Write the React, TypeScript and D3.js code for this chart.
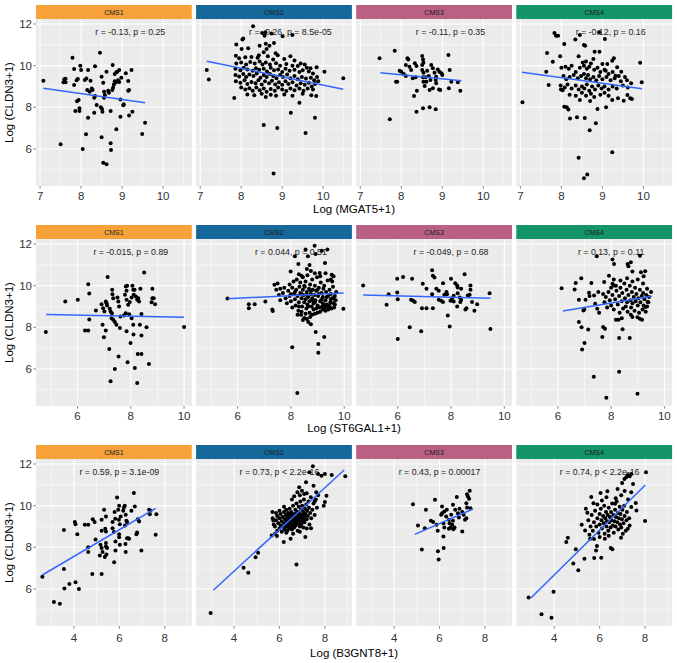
import * as d3 from "d3";
import * as React from "react";

const groups = ["CMS1", "CMS2", "CMS3", "CMS4"];
const stripColors = ["#F7A13A", "#16689A", "#B96083", "#139469"];
const genes = ["MGAT5", "ST6GAL1", "B3GNT8"];
const xDomains: [number, number][] = [[6.9, 10.7], [4.44, 10.29], [2.33, 9.19]];
const xTicks = [[7, 8, 9, 10], [6, 8, 10], [4, 6, 8]];
const xMinor = [[7.5, 8.5, 9.5, 10.5], [5, 7, 9], [3, 5, 7, 9]];
const yDomain: [number, number] = [4.22, 12.24];
const yTicks = [6, 8, 10, 12];
const yMinor = [5, 7, 9, 11];

const corText = [
  ["r = -0.13, p = 0.25", "r = -0.26, p = 8.5e-05", "r = -0.11, p = 0.35", "r = -0.12, p = 0.16"],
  ["r = -0.015, p = 0.89", "r = 0.044, p = 0.51", "r = -0.049, p = 0.68", "r = 0.13, p = 0.11"],
  ["r = 0.59, p = 3.1e-09", "r = 0.73, p < 2.2e-16", "r = 0.43, p = 0.00017", "r = 0.74, p < 2.2e-16"],
];
const corLabelX = [9.2, 8, 6];
const corLabelY = 11.6;

// lm fit segments [x0, y0, x1, y1]
const fitMgat5 = [[7.08, 8.91, 9.56, 8.22], [7.16, 10.21, 10.49, 8.87], [7.49, 9.66, 9.47, 9.28], [7.04, 9.68, 9.97, 8.89]];
const fitSt6gal1 = [[4.82, 8.62, 10.0, 8.48], [5.63, 9.37, 9.98, 9.65], [4.7, 9.55, 9.48, 9.39], [6.19, 8.78, 9.53, 9.49]];
const fitB3gnt8 = [[2.61, 6.67, 7.6, 9.87], [3.09, 5.94, 8.85, 11.71], [4.91, 8.62, 7.47, 9.84], [2.96, 5.55, 8.01, 10.99]];

const mgat5Cms1 = [[7.08,9.28],[7.5,6.22],[7.57,9.2],[7.59,9.35],[7.62,9.2],[7.62,9.37],[7.79,10.38],[7.83,9.84],[7.83,9.07],[7.86,7.82],[7.9,8.29],[7.94,8.35],[7.92,9.36],[7.89,9.3],[7.98,10.0],[8.0,9.79],[7.96,7.95],[7.96,7.82],[8.04,6.0],[8.09,9.31],[8.13,9.38],[8.17,9.79],[8.12,6.7],[8.17,7.5],[8.15,8.83],[8.21,8.75],[8.23,9.28],[8.26,8.9],[8.28,8.83],[8.32,8.46],[8.34,8.54],[8.34,9.97],[8.32,7.74],[8.38,8.11],[8.46,10.62],[8.5,6.56],[8.5,9.47],[8.48,8.0],[8.51,7.92],[8.52,7.78],[8.54,9.18],[8.56,8.75],[8.58,8.59],[8.54,5.34],[8.62,5.26],[8.62,9.71],[8.56,8.46],[8.66,8.8],[8.68,8.7],[8.72,7.82],[8.72,6.27],[8.73,5.95],[8.76,8.83],[8.78,8.94],[8.8,9.1],[8.82,9.25],[8.85,9.2],[8.77,10.03],[8.82,9.6],[8.86,9.68],[8.88,9.71],[8.86,6.94],[8.9,9.3],[8.93,9.22],[8.93,9.79],[8.96,8.38],[8.96,7.55],[8.98,9.42],[9.03,8.1],[9.04,8.14],[9.09,9.63],[9.15,8.8],[9.17,8.83],[9.15,9.26],[9.17,7.6],[9.23,9.79],[9.25,7.78],[9.49,6.72],[9.56,7.26]];
const mgat5Cms2 = [[7.16,9.79],[7.21,9.34],[7.83,8.45],[7.87,10.48],[7.88,11.02],[8.03,11.25],[8.05,11.3],[8.29,11.89],[8.55,7.15],[8.88,7.0],[8.79,4.82],[9.21,7.74],[9.57,6.77],[9.8,7.5],[10.03,9.71],[10.49,9.39],[9.42,8.22],[9.83,8.54],[9.71,8.58],[9.84,9.92],[9.69,9.88],
  [8.51,11.57],[8.57,11.44],[8.59,11.6],[8.74,11.54],[8.8,11.09],[8.69,10.96],[8.62,10.8],[8.84,10.6],[8.89,10.5],[8.43,10.5],[8.55,10.64],[8.17,10.83],[8.01,10.8],[9.01,11.41],[9.25,11.47],[8.6,11.05],[8.45,10.95],
  [7.95,10.35],[8.1,10.4],[8.25,10.42],[8.4,10.38],[8.65,10.45],[8.78,10.3],[9.05,10.32],[9.3,10.25],[9.45,10.1],[9.2,10.45],
  [7.88,10.1],[8.0,10.15],[8.12,10.05],[8.22,10.18],[8.33,10.1],[8.45,10.2],[8.52,10.05],[8.6,10.15],[8.7,10.05],[8.85,10.12],[8.95,10.0],[9.1,10.08],[9.25,10.0],[9.38,9.98],[9.55,10.05],[9.6,9.9],
  [7.86,9.85],[7.98,9.78],[8.06,9.9],[8.15,9.82],[8.28,9.75],[8.36,9.88],[8.44,9.8],[8.55,9.85],[8.63,9.72],[8.72,9.9],[8.8,9.78],[8.9,9.82],[9.0,9.7],[9.08,9.85],[9.18,9.75],[9.3,9.8],[9.42,9.7],[9.5,9.78],[9.65,9.72],[9.75,9.62],
  [7.86,9.55],[7.95,9.48],[8.05,9.6],[8.12,9.45],[8.2,9.58],[8.3,9.5],[8.38,9.62],[8.47,9.42],[8.55,9.55],[8.62,9.45],[8.7,9.6],[8.78,9.5],[8.86,9.4],[8.95,9.55],[9.02,9.45],[9.12,9.58],[9.2,9.4],[9.3,9.5],[9.38,9.35],[9.48,9.45],[9.58,9.38],[9.7,9.42],[9.78,9.3],[9.85,9.45],
  [7.87,9.25],[7.98,9.18],[8.08,9.3],[8.15,9.12],[8.25,9.22],[8.35,9.15],[8.42,9.3],[8.5,9.1],[8.58,9.25],[8.68,9.15],[8.75,9.28],[8.83,9.1],[8.92,9.2],[9.0,9.08],[9.08,9.25],[9.15,9.12],[9.25,9.2],[9.35,9.05],[9.45,9.15],[9.55,9.08],[9.65,9.18],[9.72,9.0],[9.8,9.12],[9.88,9.25],
  [8.0,8.95],[8.1,8.85],[8.2,8.92],[8.28,8.8],[8.37,8.95],[8.45,8.82],[8.55,8.9],[8.62,8.75],[8.72,8.88],[8.82,8.8],[8.9,8.95],[9.0,8.85],[9.1,8.78],[9.2,8.9],[9.3,8.82],[9.42,8.9],[9.52,8.8],[9.62,8.9],[9.75,8.85],
  [8.15,8.62],[8.32,8.58],[8.5,8.65],[8.6,8.5],[8.72,8.6],[8.85,8.55],[9.05,8.62],[9.25,8.55],[9.5,8.65]];
const mgat5Cms3 = [[7.47,10.35],[7.84,10.72],[7.72,7.42],[7.87,9.23],[7.9,9.23],[7.96,9.76],[8.0,9.71],[8.06,9.6],[8.11,9.5],[8.11,10.03],[8.15,10.35],[8.17,10.3],[8.2,9.95],[8.24,9.79],[8.33,10.11],[8.37,9.98],[8.28,9.39],[8.35,9.44],[8.38,8.8],[8.31,8.54],[8.37,7.79],[8.51,10.46],[8.53,10.3],[8.54,10.14],[8.51,10.03],[8.51,9.79],[8.54,9.66],[8.53,9.44],[8.54,9.23],[8.57,9.02],[8.53,7.95],[8.69,8.0],[8.84,7.9],[8.63,9.76],[8.67,9.5],[8.71,9.31],[8.73,10.03],[8.77,9.87],[8.81,9.66],[8.85,9.47],[8.89,9.82],[8.93,9.71],[8.98,9.63],[9.0,9.55],[8.85,9.15],[8.92,8.86],[8.95,8.83],[8.77,8.91],[8.69,8.83],[8.84,9.31],[8.59,9.44],[8.61,9.23],[9.15,10.51],[9.18,9.79],[9.16,8.91],[9.22,9.23],[9.38,9.2],[9.44,8.8]];
const mgat5Cms4 = [[7.05,8.24],[7.83,11.57],[7.87,11.44],[7.92,11.44],[7.65,10.61],[7.79,10.19],[7.97,10.45],[8.07,11.04],[8.34,11.25],[8.45,11.47],[8.55,10.99],[8.58,10.96],[9.06,11.28],[8.92,11.6],[8.81,10.67],[8.93,10.67],[8.42,10.45],[8.78,10.32],[7.63,9.71],[7.69,9.07],[7.99,8.85],[8.03,8.82],[8.07,8.03],[8.13,8.0],[8.17,7.89],[8.21,7.46],[8.38,7.52],[8.57,7.49],[8.84,7.23],[8.69,6.9],[8.88,7.92],[9.09,8.0],[8.42,5.58],[9.24,5.84],[8.55,4.59],[8.63,4.77],[9.92,10.14],[9.96,9.2],[9.68,8.43],[9.72,8.4],[9.52,8.32],[9.38,8.43],[9.24,8.35],[9.61,8.59],[9.46,9.71],[9.32,9.52],[9.24,10.24],[9.28,10.35],[9.36,9.92],[9.12,10.08],[9.0,10.08],[9.08,9.76],
  [8.0,9.9],[8.1,9.95],[8.18,9.85],[8.25,10.0],[8.35,9.7],[8.45,9.9],[8.52,10.15],[8.55,10.0],[8.6,10.2],[8.62,9.85],[8.68,9.95],[8.72,10.1],[8.8,9.8],[8.88,9.9],[8.95,9.7],[9.05,9.8],[9.15,9.6],[9.25,9.7],[9.4,9.5],[9.55,9.45],
  [8.05,9.5],[8.12,9.35],[8.2,9.45],[8.3,9.55],[8.4,9.4],[8.48,9.5],[8.55,9.6],[8.6,9.4],[8.65,9.55],[8.7,9.35],[8.78,9.45],[8.85,9.3],[8.92,9.5],[9.0,9.35],[9.1,9.45],[9.2,9.3],[9.3,9.4],[9.45,9.25],[9.6,9.3],[9.7,9.15],
  [7.98,9.05],[8.08,8.95],[8.15,9.1],[8.25,8.9],[8.35,9.05],[8.42,8.85],[8.5,9.0],[8.56,8.9],[8.62,9.1],[8.68,8.8],[8.75,9.0],[8.82,8.85],[8.9,9.05],[8.98,8.9],[9.05,9.0],[9.15,8.85],[9.25,9.0],[9.35,8.9],[9.5,9.05],[9.62,8.95],
  [8.2,8.6],[8.35,8.55],[8.5,8.7],[8.6,8.55],[8.72,8.65],[8.8,8.5],[8.95,8.6],[9.05,8.7],[9.15,8.55],[8.45,8.35],[8.7,8.3]];

const st6gal1Cms1 = [[4.81,7.77],[5.54,9.24],[6.01,9.32],[6.28,7.84],[6.4,10.07],[6.44,9.62],[6.44,8.38],[6.4,7.84],[6.69,8.81],[6.9,9.11],[6.96,8.92],[7.01,8.76],[6.94,8.12],[6.99,7.52],[7.06,7.84],[7.13,10.41],[7.19,6.96],[7.24,5.41],[7.06,9.24],[7.09,9.16],[7.11,9.05],[7.21,8.89],[7.24,8.76],[7.29,8.68],[7.3,9.8],[7.31,9.59],[7.34,9.4],[7.28,8.44],[7.34,8.36],[7.4,8.25],[7.46,8.12],[7.53,9.24],[7.56,9.0],[7.5,9.43],[7.54,6.6],[7.4,6.0],[7.59,7.96],[7.61,8.52],[7.74,8.57],[7.81,8.68],[7.84,9.32],[7.78,9.56],[7.84,9.75],[7.86,10.0],[7.81,9.96],[7.9,9.08],[7.96,9.21],[8.03,9.43],[8.09,9.8],[8.06,10.0],[8.11,9.56],[7.94,8.63],[8.03,8.44],[7.84,7.81],[7.99,7.25],[7.88,6.32],[8.09,8.12],[8.15,6.05],[8.14,9.8],[8.19,9.48],[8.24,9.32],[8.1,7.65],[8.24,5.33],[8.28,9.4],[8.31,9.24],[8.26,6.72],[8.4,6.72],[8.34,8.12],[8.4,7.6],[8.36,9.85],[8.4,8.64],[8.5,10.63],[8.59,8.0],[8.68,6.24],[8.81,9.85],[8.81,9.4],[8.86,9.4],[8.91,9.11],[8.78,9.2],[10.0,8.01]];
const st6gal1Cms2 = [[5.62,9.38],[6.42,9.11],[6.42,8.92],[6.64,9.11],[7.04,9.24],[7.3,8.86],[7.32,8.78],[8.05,7.04],[8.24,4.84],[8.93,7.77],[9.25,7.53],[9.03,7.2],[9.03,6.78],[9.97,8.89],[7.38,10.04],[7.5,10.1],
  [8.89,11.92],[9.37,11.73],[9.16,11.68],[8.15,11.41],[8.64,11.41],[8.55,11.73],[8.93,11.52],[9.28,11.09],[8.7,10.99],[8.28,11.04],[9.08,10.61],[7.99,10.68],[8.4,10.48],[9.53,10.52],[9.55,10.2],[9.6,9.4],
  [7.45,9.8],[7.55,9.55],[7.6,9.3],[7.7,9.65],[7.75,9.9],[7.8,9.4],[7.85,9.15],[7.9,9.75],[7.95,10.05],[7.95,9.5],[8.0,9.25],[8.05,9.9],[8.05,8.95],[8.1,10.2],[8.12,9.6],[8.15,9.35],[8.18,9.05],[8.2,9.8],[8.22,10.3],[8.25,9.5],[8.28,8.8],[8.3,9.2],[8.32,9.95],[8.35,10.15],[8.35,9.65],[8.38,8.6],[8.4,9.4],[8.42,9.0],[8.45,9.8],[8.45,10.4],[8.48,9.55],[8.5,9.2],[8.5,8.45],[8.52,9.95],[8.55,10.2],[8.55,9.35],[8.58,8.9],[8.6,9.7],[8.62,9.1],[8.62,10.5],[8.65,9.45],[8.68,9.85],[8.7,8.7],[8.7,9.25],[8.72,10.05],[8.75,9.6],[8.78,9.0],[8.8,9.4],[8.8,10.3],[8.82,9.8],[8.85,8.85],[8.85,9.15],[8.88,9.55],[8.9,10.0],[8.92,9.3],[8.95,8.9],[8.95,9.75],[8.98,10.4],[9.0,9.05],[9.02,9.5],[9.05,9.9],[9.08,8.95],[9.1,9.25],[9.12,10.15],[9.15,9.65],[9.18,9.0],[9.2,9.45],[9.22,9.85],[9.25,10.0],[9.28,8.95],[9.3,9.3],[9.32,9.7],[9.35,9.1],[9.38,10.25],[9.4,9.5],[9.42,8.95],[9.45,9.8],[9.48,9.2],[9.5,9.6],[9.52,8.9],[9.55,9.4],[9.58,9.95],[9.6,9.15],[9.62,8.95],[9.65,9.5],[9.68,9.3],[9.7,9.7],
  [8.25,8.6],[8.4,8.75],[8.55,8.65],[8.6,8.4],[8.72,8.5],[8.65,8.25],[8.75,8.15],[8.45,8.35],[8.8,8.6],[8.9,8.65],[9.0,8.7],[9.1,8.75],[9.2,8.85],[9.3,8.8],[9.4,8.85],[7.6,9.85],[8.0,9.6],[8.3,10.55],[8.6,10.8],[8.75,10.7],[8.9,10.6],[9.1,10.45],[9.3,10.6],[9.5,10.3],[9.6,10.45],
  [8.15,9.7],[8.3,9.0],[8.5,10.0],[8.65,9.0],[8.75,9.75],[8.9,9.2],[9.05,9.6],[9.2,9.15],[9.35,9.45],[9.45,9.05],[8.4,9.6],[8.6,9.55],[8.8,9.3],[9.0,9.8],[9.15,9.35],[9.3,9.05],[9.5,9.35],[9.65,9.1]];
const st6gal1Cms3 = [[4.7,10.01],[5.58,9.08],[5.66,9.59],[5.98,10.33],[5.98,9.67],[6.0,9.35],[6.0,7.44],[6.2,10.41],[6.45,8.0],[6.5,9.32],[6.58,9.27],[6.64,9.21],[6.54,10.33],[6.88,7.81],[6.91,8.92],[7.08,8.92],[6.94,10.09],[7.08,9.85],[7.29,10.74],[7.32,10.48],[7.38,10.39],[7.32,8.92],[7.29,9.59],[7.45,9.85],[7.54,9.75],[7.54,9.32],[7.63,9.27],[7.7,9.21],[7.7,10.12],[7.75,9.56],[7.83,9.69],[7.85,9.59],[7.88,8.57],[7.95,8.04],[8.0,10.33],[7.98,9.27],[8.04,9.4],[8.1,9.51],[8.1,9.24],[8.16,10.12],[8.23,10.01],[8.25,9.91],[8.25,9.64],[8.33,9.43],[8.38,9.85],[8.38,9.32],[8.23,9.0],[8.35,9.21],[8.51,10.55],[8.54,8.85],[8.58,8.92],[8.63,9.53],[8.7,9.56],[8.73,9.8],[8.73,10.01],[8.79,9.21],[8.88,8.79],[8.98,9.11],[9.45,9.64],[9.48,7.92]];
const st6gal1Cms4 = [[6.14,9.88],[6.63,9.82],[6.67,10.13],[6.88,10.36],[6.79,9.32],[7.04,9.32],[6.96,8.81],[6.99,8.85],[6.79,8.25],[6.89,8.0],[7.14,7.89],[7.0,7.25],[6.91,6.93],[7.35,5.62],[7.82,4.62],[8.3,5.86],[8.99,4.81],[7.46,11.41],[7.26,10.13],[7.17,9.66],[7.19,9.5],[7.74,10.17],[7.7,8.01],[7.77,7.93],[7.67,7.53],[7.92,10.48],[8.3,7.49],[8.43,7.9],[8.7,7.49],[9.08,11.44],[9.5,9.69],[7.36,9.53],[7.4,9.13],[7.52,9.69],[7.48,8.89],[7.55,8.7],[8.05,11.25],[8.11,11.04],[8.05,10.09],[8.11,10.01],[8.18,8.36],[8.28,8.36],[8.4,8.44],[8.62,11.04],[8.65,10.93],[8.74,11.12],[8.8,10.68],[9.12,10.64],[9.22,10.45],[9.28,10.69],[9.37,9.21],[9.28,8.97],[9.08,8.41],[9.16,8.36],[8.99,8.48],[8.8,8.49],[8.74,8.6],
  [7.7,9.6],[7.75,9.2],[7.8,9.45],[7.85,8.95],[7.9,9.7],[7.95,9.3],[8.0,9.05],[8.0,9.9],[8.05,9.55],[8.1,8.85],[8.15,9.35],[8.18,10.0],[8.2,9.75],[8.25,9.1],[8.3,9.5],[8.32,8.7],[8.35,9.9],[8.4,9.25],[8.42,9.65],[8.45,8.9],[8.5,10.1],[8.52,9.4],[8.55,9.0],[8.58,9.8],[8.6,9.2],[8.62,8.75],[8.65,9.55],[8.7,10.0],[8.72,9.3],[8.75,8.95],[8.78,9.7],[8.8,9.15],[8.85,9.45],[8.88,8.8],[8.9,9.9],[8.92,9.25],[8.95,9.6],[9.0,9.05],[9.02,9.4],[9.05,8.7],[9.08,9.8],[9.1,9.2],[9.15,9.5],[9.18,8.85],[9.2,9.65],[9.22,9.05],[9.25,9.35],[9.3,8.75],[9.32,9.55],[9.35,9.0],[9.4,9.2],[9.42,9.45],[8.1,10.3],[8.35,10.25],[8.6,10.35],[8.8,10.2],[9.0,10.3],[9.2,10.1],[9.35,9.85]];

const b3gnt8Cms1 = [[2.61,6.58],[3.12,5.37],[3.38,5.29],[3.56,8.83],[3.56,6.96],[3.58,6.02],[3.8,6.24],[4.04,9.21],[4.07,9.11],[4.15,8.63],[4.07,6.32],[4.22,6.0],[4.48,9.08],[4.63,9.08],[4.63,8.0],[4.63,7.77],[4.81,6.72],[4.83,9.35],[4.91,9.21],[4.95,8.38],[5.22,9.32],[5.22,8.79],[5.22,6.72],[5.14,7.6],[5.17,8.12],[5.22,7.96],[5.26,7.77],[5.33,9.8],[5.38,8.89],[5.41,8.76],[5.41,9.48],[5.41,8.2],[5.46,7.96],[5.43,7.65],[5.36,7.53],[5.41,8.04],[5.7,9.21],[5.7,8.92],[5.76,8.73],[5.82,9.37],[5.79,9.69],[5.77,7.28],[5.83,7.84],[5.83,8.28],[5.9,10.39],[5.95,9.8],[5.99,10.0],[5.98,9.32],[6.02,9.11],[5.99,8.63],[5.99,8.48],[6.02,8.12],[6.06,9.48],[6.17,9.75],[6.2,9.91],[6.24,10.0],[6.25,9.05],[6.27,8.16],[6.28,7.77],[6.28,9.56],[6.34,8.44],[6.39,8.44],[6.31,9.27],[6.34,9.21],[6.43,8.41],[6.53,9.75],[6.64,10.61],[6.68,9.96],[6.75,8.63],[6.81,9.35],[6.87,9.24],[6.78,8.71],[6.97,7.84],[7.31,9.8],[7.34,9.59],[7.37,9.75],[7.6,8.6],[7.63,9.59]];
const b3gnt8Cms2 = [[2.97,4.84],[4.42,7.02],[4.63,6.78],[4.95,7.52],[5.06,7.74],[5.66,8.57],[5.81,8.65],[5.89,8.54],[6.19,8.25],[6.49,8.41],[6.75,7.17],[7.14,8.49],[7.39,8.92],[5.69,9.69],[5.73,9.29],[8.0,11.52],[8.3,11.47],[8.9,11.41],[7.47,11.89],[7.7,11.52],[7.85,11.44],[7.32,11.6],[7.17,11.12],[6.87,10.88],[6.99,10.72],[6.79,10.64],[7.09,10.56],[8.0,10.17],[8.07,10.48],[7.5,10.96],[7.62,10.64],[7.95,10.0],[7.55,10.2],
  [5.7,9.4],[5.75,9.1],[5.8,9.0],[5.85,9.3],[5.9,9.5],[5.9,8.8],[5.95,9.15],[6.0,9.4],[6.0,8.9],[6.05,9.6],[6.05,9.05],[6.1,9.25],[6.1,8.75],[6.15,9.45],[6.15,9.0],[6.2,9.7],[6.2,9.15],[6.22,8.85],[6.25,9.35],[6.28,9.55],[6.3,9.0],[6.3,9.8],[6.32,9.2],[6.35,8.8],[6.35,9.45],[6.38,9.65],[6.4,9.1],[6.4,9.3],[6.42,8.9],[6.45,9.55],[6.45,9.85],[6.48,9.2],[6.5,9.4],[6.5,9.0],[6.52,9.7],[6.55,9.3],[6.55,8.85],[6.58,9.5],[6.6,9.1],[6.6,10.0],[6.62,9.35],[6.65,9.6],[6.65,8.95],[6.68,9.2],[6.7,9.45],[6.7,9.8],[6.72,9.05],[6.75,9.3],[6.75,10.1],[6.78,9.55],[6.8,9.15],[6.8,8.8],[6.82,9.7],[6.85,9.4],[6.85,9.95],[6.88,9.25],[6.9,9.6],[6.9,9.0],[6.92,10.2],[6.95,9.45],[6.95,9.8],[6.98,9.15],[7.0,9.55],[7.0,10.0],[7.02,9.35],[7.05,9.7],[7.05,8.95],[7.08,10.3],[7.1,9.5],[7.1,9.2],[7.12,9.85],[7.15,9.6],[7.18,10.05],[7.2,9.35],[7.22,9.75],[7.25,9.5],[7.28,10.2],[7.3,9.9],[7.32,9.1],[7.35,9.65],[7.38,10.4],[7.4,9.4],[7.45,9.8],[7.5,10.1],[7.55,9.55],[7.6,10.3],[7.65,9.9],[7.7,10.5],[6.55,10.3],[6.65,10.45],[6.9,10.5],[7.2,10.6],[6.3,8.7],[6.6,8.65],[6.9,8.75],[7.2,8.9],[6.0,9.75],[6.2,9.95],[5.85,9.65],
  [6.25,9.1],[6.4,9.6],[6.55,9.05],[6.7,9.25],[6.85,9.15],[7.0,9.3],[6.6,9.45],[6.75,9.65],[6.95,9.1],[7.1,9.35],[6.45,9.35],[6.35,9.0],[6.5,9.6],[6.8,9.5],[7.05,9.45]];
const b3gnt8Cms3 = [[4.83,10.07],[5.05,9.05],[5.22,7.89],[5.4,9.8],[5.35,8.92],[5.62,9.27],[5.72,9.21],[5.8,10.28],[5.87,9.08],[5.93,7.81],[5.96,7.41],[5.92,8.79],[6.11,9.96],[6.07,9.56],[6.11,9.64],[6.17,9.16],[6.21,8.95],[6.17,8.52],[6.18,7.97],[6.21,9.72],[6.29,9.48],[6.32,9.8],[6.41,9.32],[6.44,9.16],[6.41,8.89],[6.48,8.95],[6.51,9.56],[6.56,9.08],[6.59,9.27],[6.61,8.87],[6.66,8.95],[6.59,10.04],[6.69,9.8],[6.76,10.41],[6.81,9.64],[6.85,9.43],[6.88,9.85],[7.0,8.76],[7.0,9.69],[7.06,9.56],[7.18,10.12],[7.21,9.91],[7.21,10.55],[7.25,10.44],[7.3,10.33],[7.33,10.71],[7.36,9.88],[7.12,9.32],[7.18,9.4]];
const b3gnt8Cms4 = [[2.87,5.59],[3.44,4.79],[3.88,4.62],[3.97,5.86],[4.53,8.25],[4.6,8.46],[4.84,7.22],[5.06,6.9],[5.33,7.45],[4.95,7.9],[5.76,7.49],[6.07,7.5],[5.84,7.85],[5.88,8.06],[5.63,10.41],[6.04,10.61],[6.34,10.69],[5.39,9.85],[5.46,9.66],[5.73,10.12],[5.21,9.08],[5.36,8.81],[5.58,8.41],[6.49,7.96],[6.56,7.9],[6.23,8.41],[6.94,8.46],[7.02,8.65],[7.24,8.89],[7.32,9.05],[7.39,9.93],[7.62,9.77],[7.59,10.13],[7.39,10.64],[7.47,11.04],[6.99,11.09],[7.09,11.28],[6.79,10.8],[6.68,10.09],[7.17,11.36],[7.32,11.41],[7.24,11.47],[7.39,11.52],[8.04,11.6],[8.0,9.26],[6.71,10.36],
  [5.5,9.3],[5.6,9.0],[5.65,9.55],[5.7,8.8],[5.75,9.2],[5.8,9.75],[5.85,9.0],[5.9,9.4],[5.95,8.7],[6.0,9.6],[6.0,9.1],[6.05,9.85],[6.08,9.3],[6.1,8.9],[6.15,9.5],[6.18,9.15],[6.2,10.0],[6.22,8.65],[6.25,9.4],[6.28,9.7],[6.3,9.0],[6.32,9.25],[6.35,9.55],[6.38,8.8],[6.4,9.9],[6.42,9.2],[6.45,9.45],[6.48,8.95],[6.5,9.7],[6.52,9.3],[6.55,10.1],[6.58,9.05],[6.6,9.55],[6.62,8.7],[6.65,9.25],[6.68,9.8],[6.7,9.0],[6.72,9.45],[6.75,10.2],[6.78,9.2],[6.8,9.65],[6.82,8.85],[6.85,9.4],[6.88,9.95],[6.9,9.1],[6.92,9.6],[6.95,8.95],[6.98,9.35],[7.0,9.8],[7.05,9.15],[7.08,10.0],[7.1,9.5],[7.15,8.8],[7.18,9.3],[7.2,9.7],[7.25,10.3],[7.3,9.4],[5.9,10.05],[6.1,10.25],[6.3,10.4],[6.95,10.5],[7.1,10.7],[5.55,8.6],[5.75,8.4],[6.0,8.5],[6.4,8.55]];

const rowsPoints = [
  [mgat5Cms1, mgat5Cms2, mgat5Cms3, mgat5Cms4],
  [st6gal1Cms1, st6gal1Cms2, st6gal1Cms3, st6gal1Cms4],
  [b3gnt8Cms1, b3gnt8Cms2, b3gnt8Cms3, b3gnt8Cms4],
];
const rowsFits = [fitMgat5, fitSt6gal1, fitB3gnt8];

const FONT = "'Liberation Sans', Arial, Helvetica, sans-serif";
const LEFT = 36;
const PW = 155.8;
const GAP = 4.3;
const STRIP = 14;
const PH = 167;
const rowTops = [5, 225, 445];
const tickLabelOff = [13.5, 14, 15.5];
const titleOff = [26.5, 26, 30.5];

function Row({ r }: { r: number }) {
  const top = rowTops[r] + STRIP;
  const bottom = top + PH;
  const y = d3.scaleLinear().domain(yDomain).range([bottom, top]);
  return (
    <g>
      {groups.map((g, i) => {
        const x0 = LEFT + i * (PW + GAP);
        const x = d3.scaleLinear().domain(xDomains[r]).range([x0, x0 + PW]);
        const f = rowsFits[r][i];
        return (
          <g key={g}>
            <rect x={x0} y={rowTops[r]} width={PW} height={STRIP} fill={stripColors[i]} />
            <text x={x0 + PW / 2} y={rowTops[r] + STRIP / 2 + 2.5} textAnchor="middle" fontSize={7} fill="#1A1A1A">{g}</text>
            <rect x={x0} y={top} width={PW} height={PH} fill="#EBEBEB" />
            {yMinor.map(v => <line key={"ym" + v} x1={x0} x2={x0 + PW} y1={y(v)} y2={y(v)} stroke="#fff" strokeWidth={0.5} />)}
            {xMinor[r].map(v => <line key={"xm" + v} x1={x(v)} x2={x(v)} y1={top} y2={bottom} stroke="#fff" strokeWidth={0.5} />)}
            {yTicks.map(v => <line key={"y" + v} x1={x0} x2={x0 + PW} y1={y(v)} y2={y(v)} stroke="#fff" strokeWidth={1.1} />)}
            {xTicks[r].map(v => <line key={"x" + v} x1={x(v)} x2={x(v)} y1={top} y2={bottom} stroke="#fff" strokeWidth={1.1} />)}
            <text x={x(corLabelX[r])} y={y(corLabelY) + 3} textAnchor="middle" fontSize={8.8} fill="#222">{corText[r][i]}</text>
            {rowsPoints[r][i].map((p, k) => <circle key={k} cx={x(p[0])} cy={y(p[1])} r={2} fill="#000" />)}
            <line x1={x(f[0])} y1={y(f[1])} x2={x(f[2])} y2={y(f[3])} stroke="#3366FF" strokeWidth={1.5} />
            {xTicks[r].map(v => (
              <g key={"xt" + v}>
                <line x1={x(v)} x2={x(v)} y1={bottom} y2={bottom + 2.7} stroke="#333" strokeWidth={0.6} />
                <text x={x(v)} y={bottom + tickLabelOff[r]} textAnchor="middle" fontSize={11.5} fill="#333">{v}</text>
              </g>
            ))}
          </g>
        );
      })}
      {yTicks.map(v => (
        <g key={"yt" + v}>
          <line x1={LEFT - 2.7} x2={LEFT} y1={y(v)} y2={y(v)} stroke="#333" strokeWidth={0.6} />
          <text x={LEFT - 4} y={y(v) + 4} textAnchor="end" fontSize={11.5} fill="#333">{v}</text>
        </g>
      ))}
      <text transform={`translate(13,${(top + bottom) / 2}) rotate(-90)`} textAnchor="middle" fontSize={11.5} fill="#000">Log (CLDN3+1)</text>
      <text x={(LEFT + LEFT + 4 * PW + 3 * GAP) / 2} y={bottom + titleOff[r]} textAnchor="middle" fontSize={11.5} fill="#000">{`Log (${genes[r]}+1)`}</text>
    </g>
  );
}

export default function App() {
  return (
    <svg width={677} height={663} style={{ position: "absolute", left: 0, top: 0, background: "#fff" }} fontFamily={FONT}>
      {[0, 1, 2].map(r => <Row key={r} r={r} />)}
    </svg>
  );
}
